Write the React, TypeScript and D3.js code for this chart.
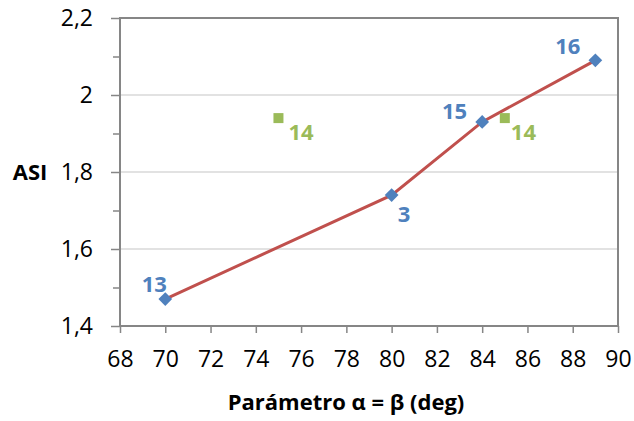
import * as d3 from 'd3';
import React from 'react';

// main series (blue diamonds joined by the red line)
const angles = [70, 80, 84, 89];
const asiValues = [1.47, 1.74, 1.93, 2.09];
const pointLabels = ['13', '3', '15', '16'];

// separate points (green squares)
const extraAngles = [75, 85];
const extraValues = [1.94, 1.94];
const extraLabels = ['14', '14'];

const xTicks = [68, 70, 72, 74, 76, 78, 80, 82, 84, 86, 88, 90];
const yTicks = [1.4, 1.6, 1.8, 2.0, 2.2];
const yMinorTicks = [1.5, 1.7, 1.9, 2.1];

// label placement next to each marker: [dx, dy, anchor]
const labelPlacement: [number, number, string][] = [
    [-11, -7, 'middle'],
    [6, 27, 'start'],
    [-15, -3, 'end'],
    [-15, -6, 'end'],
];
const extraPlacement: [number, number, string][] = [
    [10, 22, 'start'],
    [6, 22, 'start'],
];

const FONT = '"Open Sans", sans-serif';

class App extends React.Component {
    componentDidMount() {
        this.plot();
    }

    plot() {
        const width = 634;
        const height = 421;
        const plot = { left: 120, right: 618, top: 18, bottom: 326 };

        const root = d3.select('#asi-chart');
        root.selectAll('*').remove();

        const svg = root.append('svg')
            .attr('width', width)
            .attr('height', height)
            .style('position', 'absolute')
            .style('left', 0)
            .style('top', 0)
            .style('background', 'white');

        const x = d3.scaleLinear().domain([68, 90]).range([plot.left, plot.right]);
        const y = d3.scaleLinear().domain([1.4, 2.2]).range([plot.bottom, plot.top]);

        const locale = d3.formatLocale({ decimal: ',', thousands: '.', grouping: [3], currency: ['', ''] });
        const fmt = locale.format('.1~f');

        // gridlines
        svg.append('g')
            .selectAll('line')
            .data(yTicks.slice(1, -1))
            .enter()
            .append('line')
            .attr('x1', plot.left)
            .attr('x2', plot.right)
            .attr('y1', (d) => y(d))
            .attr('y2', (d) => y(d))
            .attr('stroke', '#d9d9d9')
            .attr('stroke-width', 1.5);

        // minor y ticks
        svg.append('g')
            .attr('transform', `translate(${plot.left},0)`)
            .call(d3.axisLeft(y).tickValues(yMinorTicks).tickSize(7).tickFormat(() => ''))
            .call((g) => g.select('.domain').remove())
            .selectAll('line')
            .attr('stroke', '#868686')
            .attr('stroke-width', 1.5);

        // major y axis
        const yAxis = svg.append('g')
            .attr('transform', `translate(${plot.left},0)`)
            .call(d3.axisLeft(y).tickValues(yTicks).tickSize(9).tickPadding(18).tickFormat((d) => fmt(d as number)));
        yAxis.select('.domain').remove();
        yAxis.selectAll('line').attr('stroke', '#868686').attr('stroke-width', 1.5);
        yAxis.selectAll('text')
            .attr('fill', 'black')
            .style('font-family', FONT)
            .style('font-size', '23px');

        // x axis
        const xAxis = svg.append('g')
            .attr('transform', `translate(0,${plot.bottom})`)
            .call(d3.axisBottom(x).tickValues(xTicks).tickSize(7).tickPadding(18));
        xAxis.select('.domain').remove();
        xAxis.selectAll('line').attr('stroke', '#868686').attr('stroke-width', 1.5);
        xAxis.selectAll('text')
            .attr('fill', 'black')
            .style('font-family', FONT)
            .style('font-size', '23px');

        // plot area frame
        svg.append('rect')
            .attr('x', plot.left)
            .attr('y', plot.top)
            .attr('width', plot.right - plot.left)
            .attr('height', plot.bottom - plot.top)
            .attr('fill', 'none')
            .attr('stroke', '#868686')
            .attr('stroke-width', 2);

        // red line
        const pts = angles.map((a, i) => [a, asiValues[i]] as [number, number]);
        const line = d3.line<[number, number]>()
            .x((d) => x(d[0]))
            .y((d) => y(d[1]));
        svg.append('path')
            .datum(pts)
            .attr('d', line)
            .attr('fill', 'none')
            .attr('stroke', '#c0504d')
            .attr('stroke-width', 3);

        // blue diamonds
        svg.append('g')
            .selectAll('path')
            .data(pts)
            .enter()
            .append('path')
            .attr('d', d3.symbol().type(d3.symbolDiamond2).size(120))
            .attr('transform', (d) => `translate(${x(d[0])},${y(d[1])})`)
            .attr('fill', '#4f81bd');

        // green squares
        const extraPts = extraAngles.map((a, i) => [a, extraValues[i]] as [number, number]);
        svg.append('g')
            .selectAll('rect')
            .data(extraPts)
            .enter()
            .append('rect')
            .attr('x', (d) => x(d[0]) - 5)
            .attr('y', (d) => y(d[1]) - 5)
            .attr('width', 10)
            .attr('height', 10)
            .attr('fill', '#9bbb59');

        // data labels
        const addLabels = (data: [number, number][], labels: string[], place: [number, number, string][], color: string) => {
            svg.append('g')
                .selectAll('text')
                .data(data)
                .enter()
                .append('text')
                .attr('x', (d, i) => x(d[0]) + place[i][0])
                .attr('y', (d, i) => y(d[1]) + place[i][1])
                .attr('text-anchor', (d, i) => place[i][2])
                .attr('fill', color)
                .style('font-family', FONT)
                .style('font-weight', 'bold')
                .style('font-size', '22px')
                .text((d, i) => labels[i]);
        };
        addLabels(pts, pointLabels, labelPlacement, '#4f81bd');
        addLabels(extraPts, extraLabels, extraPlacement, '#9bbb59');

        // axis titles
        svg.append('text')
            .attr('x', 30)
            .attr('y', 180)
            .attr('text-anchor', 'middle')
            .style('font-family', FONT)
            .style('font-weight', 'bold')
            .style('font-size', '22px')
            .text('ASI');

        svg.append('text')
            .attr('x', 346)
            .attr('y', 410)
            .attr('text-anchor', 'middle')
            .style('font-family', FONT)
            .style('font-weight', 'bold')
            .style('font-size', '22px')
            .text('Parámetro α = β (deg)');
    }

    render() {
        return <div id="asi-chart" />;
    }
}

export default App;
